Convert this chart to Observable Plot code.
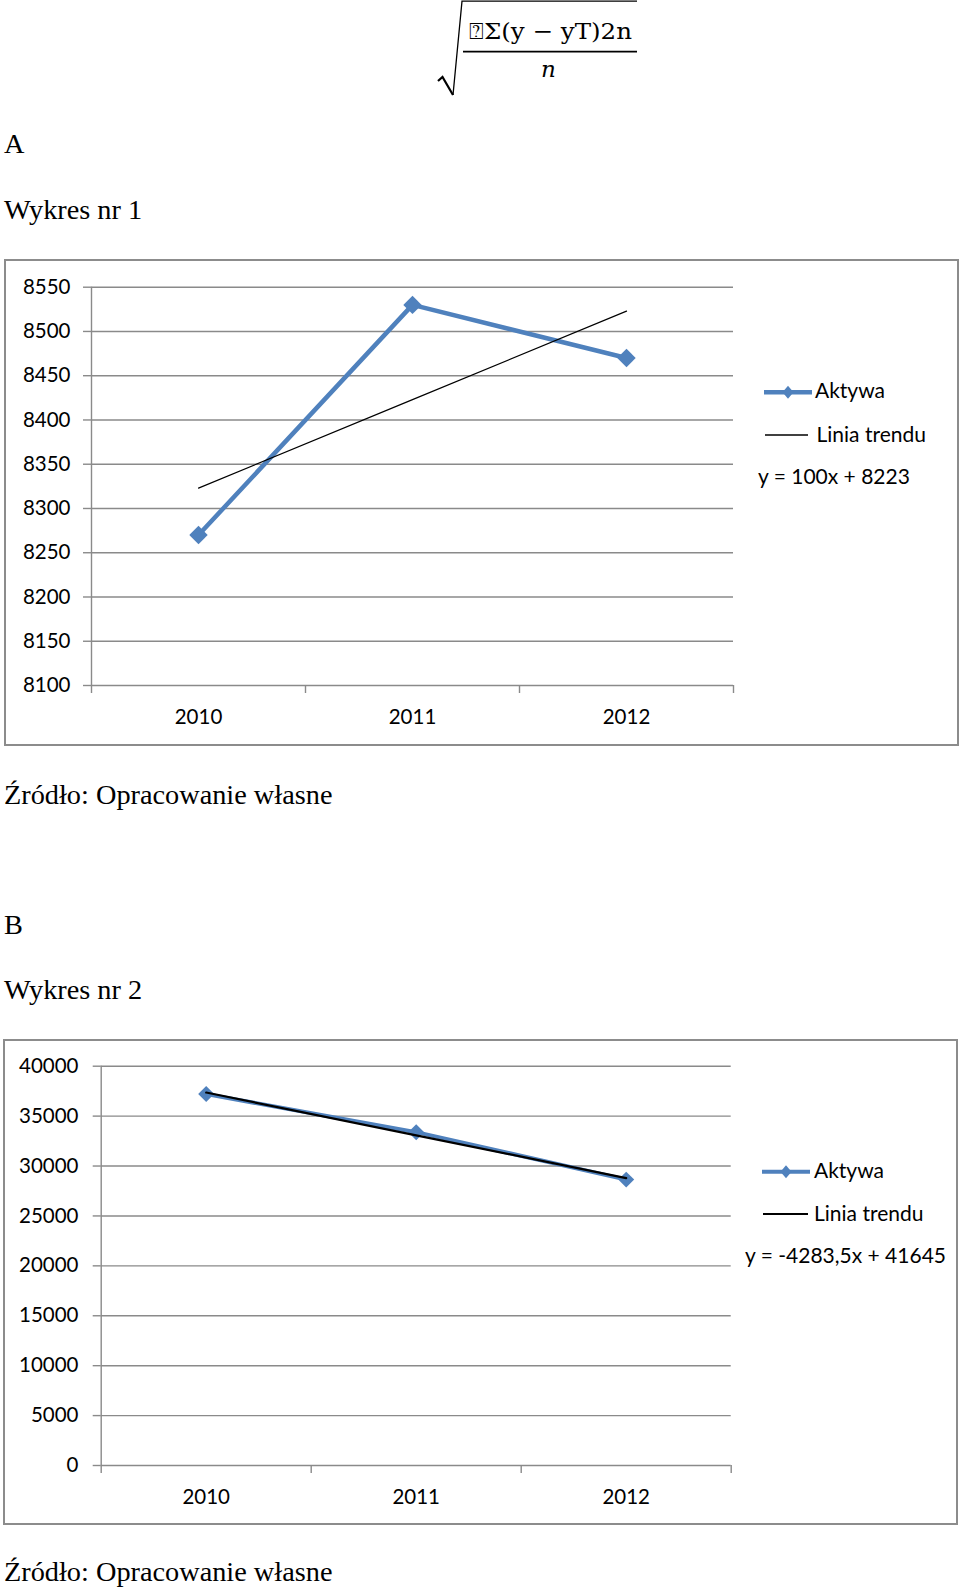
<!DOCTYPE html>
<html><head><meta charset="utf-8">
<script src="https://cdn.jsdelivr.net/npm/d3@7"></script>
<script src="https://cdn.jsdelivr.net/npm/@observablehq/plot@0.6"></script>
<style>
html,body{margin:0;padding:0;background:#fff;}
#page{position:relative;width:960px;height:1594px;overflow:hidden;background:#fff;}
.serif{position:absolute;left:4px;font-family:"Liberation Serif","Times New Roman",serif;font-size:28.3px;line-height:28px;color:#000;white-space:nowrap;}
.frame{position:absolute;border:2px solid #8c8c8c;box-sizing:border-box;pointer-events:none;}
svg.overlay{position:absolute;left:0;top:0;pointer-events:none;}
</style></head><body><div id="page"></div>
<script>
// ---------- data ----------
const years = [2010, 2011, 2012];
const xBounds = [2009.5, 2010.5, 2011.5, 2012.5];
const aktywa1 = [8270, 8530, 8470];
const trend1 = [8323, 8423, 8523];
const yTicks1 = [8100, 8150, 8200, 8250, 8300, 8350, 8400, 8450, 8500, 8550];
const aktywa2 = [37205, 33391, 28638];
const trend2 = [37361.5, 33078, 28794.5];
const yTicks2 = [0, 5000, 10000, 15000, 20000, 25000, 30000, 35000, 40000];
const seriesName = "Aktywa";
const trendName = "Linia trendu";
const equation1 = "y = 100x + 8223";
const equation2 = "y = -4283,5x + 41645";
const sourceText = "Źródło: Opracowanie własne";

const BLUE = "#4F81BD";
const GRID = "#8a8a8a";
const page = document.getElementById("page");

function addText(cls, text, baseline, extraStyle) {
  const d = document.createElement("div");
  d.className = cls;
  d.textContent = text;
  d.style.top = (baseline - 23.6) + "px";
  if (extraStyle) Object.assign(d.style, extraStyle);
  page.appendChild(d);
}

// ---------- formula at top ----------
const formulaSvg = d3.select(page).append("svg").attr("class", "overlay")
  .attr("width", 960).attr("height", 110);
formulaSvg.append("path").attr("d", "M438,81 L442.5,77 L453,95").attr("fill", "none")
  .attr("stroke", "#000").attr("stroke-width", 2.2);
formulaSvg.append("path").attr("d", "M453,95 L462,1.2 L637,1.2").attr("fill", "none")
  .attr("stroke", "#000").attr("stroke-width", 1.3);
formulaSvg.append("text").attr("x", 469).attr("y", 39.3)
  .attr("textLength", 163).attr("lengthAdjust", "spacingAndGlyphs")
  .attr("font-family", "'DejaVu Serif', serif").attr("font-size", 23)
  .text("⍰Σ(y − yT)2n");
formulaSvg.append("line").attr("x1", 463).attr("x2", 637).attr("y1", 51.7).attr("y2", 51.7)
  .attr("stroke", "#000").attr("stroke-width", 1.8);
formulaSvg.append("text").attr("x", 541).attr("y", 77.3)
  .attr("font-family", "'DejaVu Serif', serif").attr("font-style", "italic").attr("font-size", 23)
  .text("n");

addText("serif", "A", 154);
addText("serif", "Wykres nr 1", 219.3);
addText("serif", sourceText, 805);
addText("serif", "B", 935);
addText("serif", "Wykres nr 2", 1000);
addText("serif", sourceText, 1581.7);

// ---------- charts ----------
function makeChart(cfg) {
  const rows = years.map((yr, i) => ({year: yr, value: cfg.values[i]}));
  const trendRows = years.map((yr, i) => ({year: yr, value: cfg.trend[i]}));
  const yDomain = [cfg.ticks[0], cfg.ticks[cfg.ticks.length - 1]];
  const svg = Plot.plot({
    width: 960,
    height: cfg.height,
    marginLeft: cfg.ml, marginRight: cfg.mr, marginTop: cfg.mt, marginBottom: cfg.mb,
    style: {fontFamily: "Lato, 'Open Sans', sans-serif", fontSize: "20.5px", background: "transparent", color: "#000", overflow: "visible"},
    x: {type: "linear", domain: [xBounds[0], xBounds[xBounds.length - 1]], label: null},
    y: {type: "linear", domain: yDomain, label: null},
    marks: [
      Plot.ruleY(cfg.ticks, {stroke: GRID, strokeWidth: 1.4}),
      Plot.ruleX([xBounds[0]], {stroke: GRID, strokeWidth: 1.4}),
      Plot.axisY({ticks: cfg.ticks, tickSize: 8, tickPadding: cfg.ypad, stroke: GRID, strokeWidth: 1.4, fill: "#000", label: null, tickFormat: d => String(d)}),
      Plot.axisX({ticks: xBounds, tickSize: 8, tickPadding: 0, stroke: GRID, strokeWidth: 1.4, label: null, tickFormat: () => ""}),
      Plot.axisX({ticks: years, tickSize: 0, tickPadding: cfg.xpad, fill: "#000", label: null, tickFormat: d => String(d)}),
      Plot.line(rows, {x: "year", y: "value", stroke: BLUE, strokeWidth: cfg.lw}),
      Plot.dot(rows, {x: "year", y: "value", symbol: "diamond2", r: cfg.r, fill: BLUE, stroke: "none"}),
      Plot.line(trendRows, {x: "year", y: "value", stroke: "#000", strokeWidth: cfg.tw})
    ]
  });
  svg.style.position = "absolute";
  svg.style.left = "0px";
  svg.style.top = cfg.top + "px";
  page.appendChild(svg);

  const fr = document.createElement("div");
  fr.className = "frame";
  Object.assign(fr.style, {left: cfg.frame[0] + "px", top: cfg.frame[1] + "px", width: cfg.frame[2] + "px", height: cfg.frame[3] + "px"});
  page.appendChild(fr);

  // legend (drawn to the right of the plot area, inside the frame)
  const L = cfg.legend;
  const lg = d3.select(page).append("svg").attr("class", "overlay")
    .style("top", L.top + "px").attr("width", 960).attr("height", 130);
  const o = -L.top;
  const g = lg.append("g").attr("transform", `translate(0,${o})`)
    .attr("font-family", "Lato, 'Open Sans', sans-serif").attr("font-size", L.fs);
  g.append("line").attr("x1", L.s1[0]).attr("x2", L.s1[1]).attr("y1", L.s1[2]).attr("y2", L.s1[2])
    .attr("stroke", BLUE).attr("stroke-width", cfg.lw);
  const cx = (L.s1[0] + L.s1[1]) / 2, cy = L.s1[2];
  g.append("path").attr("d", `M${cx},${cy - L.dh} L${cx + L.dw},${cy} L${cx},${cy + L.dh} L${cx - L.dw},${cy} Z`).attr("fill", BLUE);
  g.append("text").attr("x", L.t1[0]).attr("y", L.t1[1]).text(seriesName);
  g.append("line").attr("x1", L.s2[0]).attr("x2", L.s2[1]).attr("y1", L.s2[2]).attr("y2", L.s2[2])
    .attr("stroke", "#000").attr("stroke-width", L.tw2);
  g.append("text").attr("x", L.t2[0]).attr("y", L.t2[1]).text(trendName);
  g.append("text").attr("x", L.t3[0]).attr("y", L.t3[1]).text(cfg.equation);
}

makeChart({
  values: aktywa1, trend: trend1, ticks: yTicks1, equation: equation1,
  top: 260, height: 485, ml: 91, mr: 227, mt: 26.7, mb: 60,
  ypad: 13, xpad: 24, lw: 4.5, r: 8.3, tw: 1.2,
  frame: [4, 259, 955, 487],
  legend: {top: 370, fs: 21, s1: [764, 812, 392.3], dw: 5.5, dh: 6.5, t1: [815, 398.3],
           s2: [765, 808, 435], tw2: 1.5, t2: [816.5, 441.7], t3: [758, 484]}
});

makeChart({
  values: aktywa2, trend: trend2, ticks: yTicks2, equation: equation2,
  top: 1040, height: 484, ml: 100.7, mr: 229.3, mt: 25.7, mb: 59,
  ypad: 14.7, xpad: 23.5, lw: 4, r: 7.2, tw: 2.2,
  frame: [3, 1039, 955, 486],
  legend: {top: 1150, fs: 21, s1: [762, 810, 1171.7], dw: 5.5, dh: 6.5, t1: [814, 1178.3],
           s2: [763, 808, 1214], tw2: 2.2, t2: [814, 1221], t3: [745, 1263.3]}
});
</script>
</body></html>
